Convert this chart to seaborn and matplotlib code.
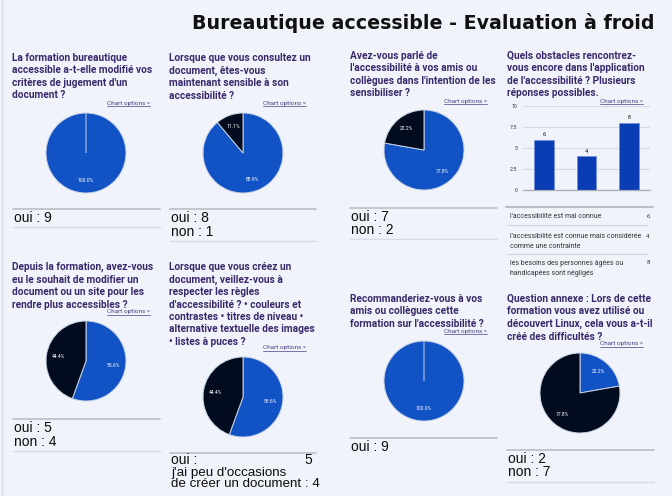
import matplotlib
matplotlib.use('Agg')
import matplotlib.pyplot as plt
import seaborn as sns
import pandas as pd

# Data
title = "Bureautique accessible - Evaluation à froid"

questions = [
    "La formation bureautique\naccessible a-t-elle modifié vos\ncritères de jugement d'un\ndocument ?",
    "Lorsque que vous consultez un\ndocument, êtes-vous\nmaintenant sensible à son\naccessibilité ?",
    "Avez-vous parlé de\nl'accessibilité à vos amis ou\ncollègues dans l'intention de les\nsensibiliser ?",
    "Quels obstacles rencontrez-\nvous encore dans l'application\nde l'accessibilité ? Plusieurs\nréponses possibles.",
    "Depuis la formation, avez-vous\neu le souhait de modifier un\ndocument ou un site pour les\nrendre plus accessibles ?",
    "Lorsque que vous créez un\ndocument, veillez-vous à\nrespecter les règles\nd'accessibilité ? • couleurs et\ncontrastes • titres de niveau •\nalternative textuelle des images\n• listes à puces ?",
    "Recommanderiez-vous à vos\namis ou collègues cette\nformation sur l'accessibilité ?",
    "Question annexe : Lors de cette\nformation vous avez utilisé ou\ndécouvert Linux, cela vous a-t-il\ncréé des difficultés ?",
]

yes_no = ["oui", "non"]
q1_counts = [9, 0]
q2_counts = [8, 1]
q3_counts = [7, 2]
q5_counts = [5, 4]
q6_labels = ["oui", "j'ai peu d'occasions\nde créer un document"]
q6_counts = [5, 4]
q7_counts = [9, 0]
q8_counts = [2, 7]

obstacles = [
    "l'accessibilité est mal connue",
    "l'accessibilité est connue mais considérée\ncomme une contrainte",
    "les besoins des personnes âgées ou\nhandicapées sont négligés",
]
obstacle_counts = [6, 4, 8]
bar_ticks = [0, 2.5, 5, 7.5, 10]

# Styles
W, H = 672, 496
BG = '#f0f4fa'
BLUE = '#1152c4'
BAR_BLUE = '#0a3db4'
BLACK = '#030c1e'
PURPLE = '#3b2a6b'
LINK = '#4b3f86'
ANS_FONT = dict(fontsize=10, family='Liberation Sans', color='#0d0d0d')

sns.set_style('white')
plt.rcParams['font.family'] = ['Roboto', 'DejaVu Sans']

fig = plt.figure(figsize=(W / 100, H / 100), dpi=100)
fig.patch.set_facecolor(BG)


def fx(x):
    return x / W


def fy(y):
    return 1 - y / H


def hline(x0, x1, y, color='#b9bec6', lw=1.2):
    fig.add_artist(plt.Line2D([fx(x0), fx(x1)], [fy(y), fy(y)], color=color, lw=lw))


# left frame border
fig.add_artist(plt.Line2D([fx(2), fx(2)], [0, 1], color='#d3dbe6', lw=1))

fig.text(fx(192), fy(13), title, ha='left', va='top', fontsize=13.7,
         fontweight='bold', family='DejaVu Sans', color='#111111')

links = []


def question(x, y, text):
    fig.text(fx(x), fy(y), text, ha='left', va='top', fontsize=7.3,
             fontweight='bold', color=PURPLE, linespacing=1.3)


def chart_options(xr, y):
    t = fig.text(fx(xr), fy(y), "Chart options »", ha='right', va='center',
                 fontsize=4.6, color=LINK)
    links.append(t)


def pie(cx, cy, counts):
    ax = fig.add_axes([fx(cx - 50), fy(cy + 50), 100 / W, 100 / H])
    ax.pie(counts, colors=[BLUE, BLACK], startangle=90, counterclock=False,
           autopct=lambda p: f'{p:.1f}%' if p > 0 else '',
           pctdistance=0.7,
           textprops=dict(color='white', fontsize=3.6),
           wedgeprops=dict(edgecolor='#c9d3e4', linewidth=0.7))
    ax.set_xlim(-1.25, 1.25)
    ax.set_ylim(-1.25, 1.25)
    ax.set_facecolor('none')


def answers(x0, x1, y_top, labels, counts, y_bot=None):
    hline(x0, x1, y_top)
    y = y_top + 9
    for lab, n in zip(labels, counts):
        if n == 0:
            continue
        fig.text(fx(x0 + 1), fy(y), f"{lab} : {n}", ha='left', va='center', **ANS_FONT)
        y += 13.5
    if y_bot is not None:
        hline(x0, x1, y_bot, color='#d2dbe7', lw=1)


# Row 1
question(12, 53, questions[0])
chart_options(150, 103)
pie(86, 153, q1_counts)
answers(13, 160, 209, yes_no, q1_counts, 227)

question(169, 53, questions[1])
chart_options(306, 103)
pie(243, 153, q2_counts)
answers(170, 316, 209, yes_no, q2_counts, 241)

question(350, 51, questions[2])
chart_options(487, 101)
pie(424, 150, q3_counts)
answers(350, 497, 208, yes_no, q3_counts, 239)

question(507, 51, questions[3])
chart_options(643, 101)

# Bar chart
bx0, bx1, by0, by1 = 523, 650, 106, 190
bax = fig.add_axes([fx(bx0), fy(by1), (bx1 - bx0) / W, (by1 - by0) / H])
df = pd.DataFrame({'obstacle': obstacles, 'count': obstacle_counts})
sns.barplot(data=df, x='obstacle', y='count', color=BAR_BLUE, width=0.47,
            saturation=1, ax=bax, edgecolor='#6f8fd8', linewidth=0.4)
for c in bax.containers:
    bax.bar_label(c, labels=[str(v) for v in obstacle_counts], fontsize=4,
                  padding=2, color='#111111')
bax.set_ylim(0, 10)
bax.set_xlim(-0.5, len(obstacles) - 0.5)
bax.set_yticks(bar_ticks)
bax.set_yticklabels(['0', '2.5', '5', '7.5', '10'], fontsize=3.8, color='#333333')
bax.yaxis.grid(True, color='#d5dbe4', lw=0.9)
bax.set_axisbelow(True)
bax.set_xticks([-0.5, 0.5, 1.5, 2.5])
bax.set_xticklabels([])
bax.tick_params(axis='x', length=3.5, width=0.6, color='#b0b4ba', pad=0)
bax.tick_params(axis='y', length=0, pad=4)
bax.set_xlabel('')
bax.set_ylabel('')
bax.set_facecolor('none')
for s in ['top', 'right', 'left']:
    bax.spines[s].set_visible(False)
bax.spines['bottom'].set_color('#a7abb2')
bax.spines['bottom'].set_linewidth(0.9)

# Obstacle table
hline(506, 653, 207, lw=1.5)
row_y = [216, 236, 263]
sep_y = [225, 254]
for lab, n, y in zip(obstacles, obstacle_counts, row_y):
    fig.text(fx(510), fy(y - 3), lab, ha='left', va='top', fontsize=5.0,
             color='#333333', linespacing=1.55)
    fig.text(fx(648), fy(y), str(n), ha='center', va='center', fontsize=4.4,
             color='#333333')
for y in sep_y:
    hline(507, 647, y, color='#cfd5de', lw=0.8)

# Row 2
question(12, 262, questions[4])
chart_options(150, 312)
pie(86, 361, q5_counts)
answers(13, 160, 419, yes_no, q5_counts, 451)

question(169, 262, questions[5])
chart_options(306, 348)
pie(243, 397, q6_counts)
hline(170, 316, 453)
fig.text(fx(171), fy(452.5), f"{q6_labels[0]} :", ha='left', va='top', **ANS_FONT)
fig.text(fx(312), fy(452.5), str(q6_counts[0]), ha='right', va='top', **ANS_FONT)
fig.text(fx(171), fy(467), f"{q6_labels[1]} : {q6_counts[1]}", ha='left', va='top',
         fontsize=9.6, family='Liberation Sans', color='#0d0d0d', linespacing=0.93)

question(350, 294, questions[6])
chart_options(487, 331)
pie(424, 381, q7_counts)
answers(350, 497, 438, yes_no, q7_counts)

question(507, 294, questions[7])
chart_options(643, 344)
pie(580, 393, q8_counts)
answers(507, 654, 450, yes_no, q8_counts, 482)

# underline the "Chart options" links
fig.canvas.draw()
r = fig.canvas.get_renderer()
for t in links:
    bb = t.get_window_extent(r)
    yy = bb.y0 / fig.bbox.height
    fig.add_artist(plt.Line2D([bb.x0 / fig.bbox.width, bb.x1 / fig.bbox.width],
                              [yy, yy], color=LINK, lw=0.5))

fig.savefig('out.png', dpi=100, facecolor=BG)
